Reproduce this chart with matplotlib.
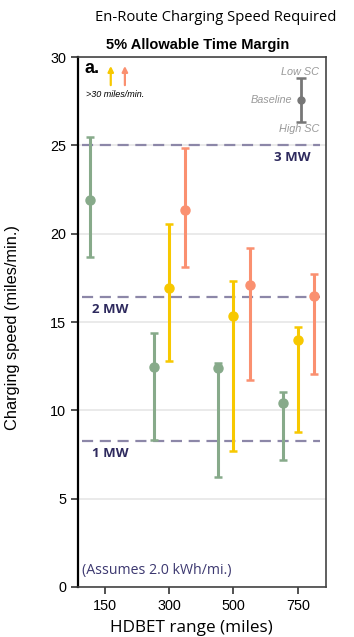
import matplotlib.pyplot as plt
import numpy as np

ranges = ['150', '300', '500', '750']

# center, upper (Low SC), lower (High SC); None = off the chart (>30)
green_mid = [21.9, 12.45, 12.4, 10.4]
green_hi = [25.5, 14.4, 12.7, 11.05]
green_lo = [18.7, 8.3, 6.2, 7.2]

yellow_mid = [None, 16.9, 15.35, 14.0]
yellow_hi = [None, 20.55, 17.3, 14.7]
yellow_lo = [None, 12.8, 7.7, 8.8]

orange_mid = [None, 21.35, 17.1, 16.5]
orange_hi = [None, 24.85, 19.2, 17.7]
orange_lo = [None, 18.1, 11.7, 12.05]

mw_levels = [8.25, 16.4, 25.0]
mw_labels = ['1 MW', '2 MW', '3 MW']

green = '#87aa8a'
yellow = '#f7c800'
orange = '#fa9070'
navy = '#2e2a5e'
dash_col = '#8c87a8'

fig = plt.figure(figsize=(3.54, 6.37), dpi=100)
ax = fig.add_axes([0.2203, 0.0785, 0.7006, 0.832])

x = np.arange(len(ranges))
series = [(green_mid, green_hi, green_lo, green, -0.235),
          (yellow_mid, yellow_hi, yellow_lo, yellow, 0.0),
          (orange_mid, orange_hi, orange_lo, orange, 0.25)]
for mid, hi, lo, col, off in series:
    for i in range(len(ranges)):
        if mid[i] is None:
            continue
        ax.errorbar(x[i] + off, mid[i], yerr=[[mid[i] - lo[i]], [hi[i] - mid[i]]],
                    fmt='o', color=col, ms=6.5, elinewidth=2.2, capsize=3,
                    capthick=1.8, zorder=4)

for lvl in mw_levels:
    ax.plot([-0.36, 3.35], [lvl, lvl], ls=(0, (5, 3)), color=dash_col, lw=1.6, zorder=3)
ax.text(2.92, 24.3, mw_labels[2], color=navy, fontsize=9.5, fontweight='bold',
        ha='center', va='center', family='Open Sans')
ax.text(0.08, 15.7, mw_labels[1], color=navy, fontsize=9.5, fontweight='bold',
        ha='center', va='center', family='Open Sans')
ax.text(0.08, 7.55, mw_labels[0], color=navy, fontsize=9.5, fontweight='bold',
        ha='center', va='center', family='Open Sans')

ax.set_xlim(-0.42, 3.44)
ax.set_ylim(0, 30)
ax.set_yticks([0, 5, 10, 15, 20, 25, 30])
ax.set_xticks(x)
ax.set_xticklabels(ranges)
ax.yaxis.grid(True, color='#e6e6e6', lw=1.2, zorder=0)
ax.set_axisbelow(True)
ax.tick_params(axis='both', length=5, width=1.2, color='#333333',
               labelsize=10.4, labelfontfamily='Liberation Sans')
for s in ['top', 'right', 'bottom']:
    ax.spines[s].set_color('#444444')
    ax.spines[s].set_linewidth(1.2)
ax.spines['left'].set_color('black')
ax.spines['left'].set_linewidth(1.6)

ax.set_xlabel('HDBET range (miles)', fontsize=12.3, family='Open Sans', va='center')
ax.xaxis.set_label_coords(0.456, -0.078)
ax.set_ylabel('Charging speed (miles/min.)', fontsize=11.8, family='Liberation Sans')
ax.yaxis.set_label_coords(-0.234, 0.49)

fig.text(0.61, 0.972, 'En-Route Charging Speed Required', ha='center', va='center',
         fontsize=10.6, family='Open Sans')
fig.text(0.557, 0.929, '5% Allowable Time Margin', ha='center', va='center',
         fontsize=10.5, fontweight='bold', family='Liberation Sans')

# inset legend
ax.text(-0.2, 29.35, 'a.', fontsize=13, fontweight='bold', ha='center', va='center',
        family='Liberation Sans')
ax.annotate('', xy=(0.09, 29.65), xytext=(0.09, 28.25),
            arrowprops=dict(arrowstyle='-|>', color=yellow, lw=1.6, mutation_scale=8))
ax.annotate('', xy=(0.31, 29.65), xytext=(0.31, 28.25),
            arrowprops=dict(arrowstyle='-|>', color=orange, lw=1.6, mutation_scale=8))
ax.text(-0.3, 28.15, '>30 miles/min.', fontsize=6.5, style='italic',
        ha='left', va='top', family='Liberation Sans')
ax.errorbar([3.05], [27.55], yerr=[[1.25], [1.25]], fmt='o', color='#777777',
            ms=5, elinewidth=2, capsize=3.5, capthick=1.8)
ax.text(3.33, 29.15, 'Low SC', fontsize=7.8, style='italic', color='#999999',
        ha='right', va='center', family='Liberation Sans')
ax.text(2.91, 27.55, 'Baseline', fontsize=7.8, style='italic', color='#999999',
        ha='right', va='center', family='Liberation Sans')
ax.text(3.33, 25.9, 'High SC', fontsize=7.8, style='italic', color='#999999',
        ha='right', va='center', family='Liberation Sans')

ax.text(-0.36, 0.96, '(Assumes 2.0 kWh/mi.)', color='#3c3870', fontsize=10.2,
        ha='left', va='center', family='Open Sans')

fig.savefig('out.png', dpi=100)
